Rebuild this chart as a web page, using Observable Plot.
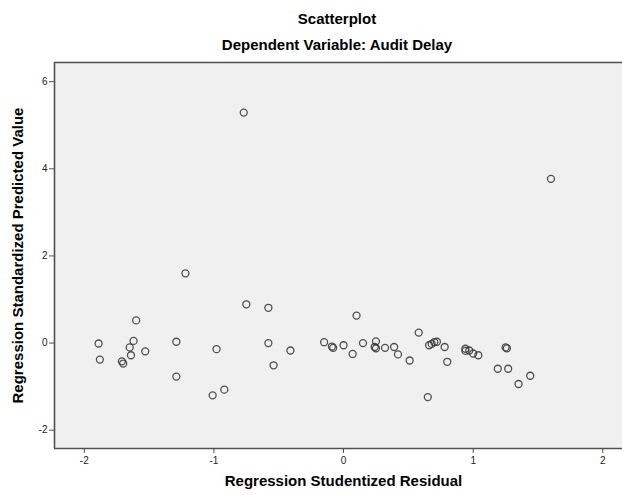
<!DOCTYPE html>
<html>
<head>
<meta charset="utf-8">
<script src="https://cdn.jsdelivr.net/npm/d3@7"></script>
<script src="https://cdn.jsdelivr.net/npm/@observablehq/plot@0.6"></script>
<style>
  html, body { margin: 0; padding: 0; background: #fff; }
  body { width: 622px; height: 495px; overflow: hidden; font-family: "Liberation Sans", Arial, sans-serif; }
  .t { text-align: center; font-weight: bold; font-size: 15px; color: #000; position: relative; left: 26px; }
  #title { height: 28px; line-height: 28px; padding-top: 5px; }
  #subtitle { height: 23px; line-height: 23px; }
  svg { display: block; }
</style>
</head>
<body>
<div id="title" class="t">Scatterplot</div>
<div id="subtitle" class="t">Dependent Variable: Audit Delay</div>
<div id="chart"></div>
<script>
// Regression Studentized Residual (x) and Regression Standardized Predicted Value (y)
const residual = [
  -1.89, -1.88, -1.71, -1.70, -1.65, -1.64, -1.62, -1.60, -1.53,
  -1.29, -1.29, -1.22, -0.98, -1.01, -0.92, -0.77, -0.75, -0.58, -0.58, -0.54, -0.41,
  -0.15, -0.09, -0.08, 0.00, 0.07, 0.10, 0.15, 0.25, 0.24, 0.25, 0.32, 0.39, 0.42, 0.51, 0.58,
  0.65, 0.66, 0.68, 0.70, 0.72, 0.78, 0.80,
  0.94, 0.94, 0.97, 1.00, 1.04, 1.25, 1.26, 1.19, 1.27, 1.44, 1.35, 1.60
];
const predicted = [
  -0.01, -0.38, -0.42, -0.47, -0.10, -0.28, 0.05, 0.52, -0.19,
  0.03, -0.77, 1.60, -0.14, -1.20, -1.07, 5.29, 0.89, 0.81, 0.00, -0.51, -0.17,
  0.02, -0.08, -0.11, -0.05, -0.25, 0.63, 0.00, 0.04, -0.09, -0.12, -0.11, -0.09, -0.26, -0.40, 0.24,
  -1.24, -0.05, -0.02, 0.02, 0.03, -0.09, -0.43,
  -0.13, -0.18, -0.17, -0.24, -0.28, -0.10, -0.12, -0.59, -0.59, -0.75, -0.94, 3.77
];
const xTicks = [-2, -1, 0, 1, 2];
const yTicks = [-2, 0, 2, 4, 6];
const xDomain = [-2.23, 2.152];
const yDomain = [-2.42, 6.44];
const xLabel = "Regression Studentized Residual";
const yLabel = "Regression Standardized Predicted Value";

const points = residual.map((r, i) => ({x: r, y: predicted[i]}));
const fmt = d => String(d);
const axisColor = "#505050";

const chart = Plot.plot({
  width: 622,
  height: 439,
  marginTop: 6,
  marginBottom: 47,
  marginLeft: 54,
  marginRight: 0,
  style: {fontFamily: "'Liberation Sans', Arial, sans-serif", fontSize: "10px", color: "#222", background: "transparent"},
  x: {domain: xDomain},
  y: {domain: yDomain},
  marks: [
    Plot.frame({fill: "#f0f0f0", stroke: "none"}),
    Plot.ruleY([yDomain[1]], {stroke: axisColor, strokeWidth: 1.6}),
    Plot.ruleY([yDomain[0]], {stroke: axisColor, strokeWidth: 1.6}),
    Plot.ruleX([xDomain[0]], {stroke: axisColor, strokeWidth: 1.6}),
    Plot.axisX({ticks: xTicks, tickFormat: fmt, tickSize: 5, tickPadding: 3, stroke: axisColor, label: null}),
    Plot.axisY({ticks: yTicks, tickFormat: fmt, tickSize: 5, tickPadding: 2, stroke: axisColor, label: null}),
    Plot.dot(points, {x: "x", y: "y", r: 3.5, stroke: "#333", strokeWidth: 1.3, strokeOpacity: 0.85, fill: "none"}),
    Plot.text([xLabel], {frameAnchor: "bottom", dy: 37, dx: 5, text: d => d, fontWeight: "bold", fontSize: 15, fill: "#000"}),
    Plot.text([yLabel], {frameAnchor: "left", dx: -36, rotate: -90, textAnchor: "middle", text: d => d, fontWeight: "bold", fontSize: 15, fill: "#000"})
  ]
});
document.getElementById("chart").appendChild(chart);
</script>
</body>
</html>
